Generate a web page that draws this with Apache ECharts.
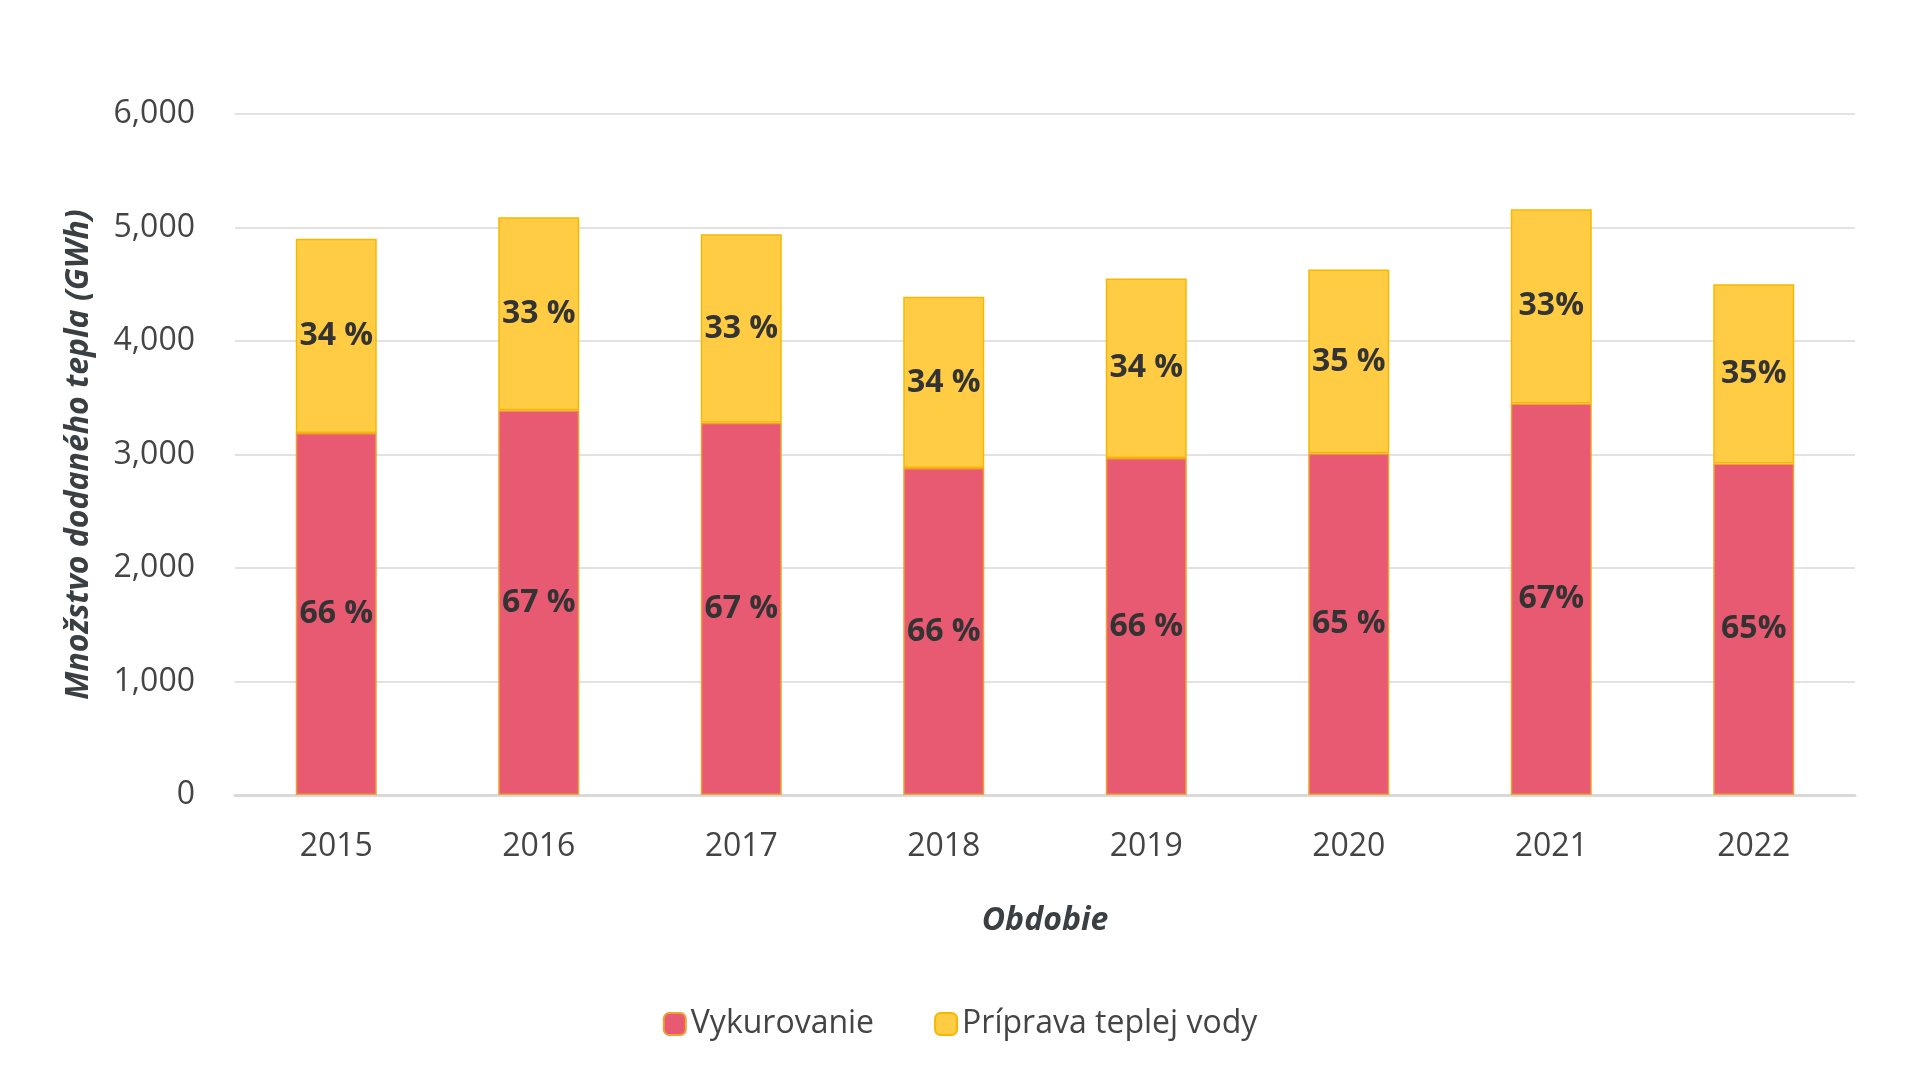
<!DOCTYPE html>
<html>
<head>
<meta charset="UTF-8">
<script src="https://cdn.jsdelivr.net/npm/echarts@6/dist/echarts.min.js"></script>
<style>body{margin:0;background:#fff}</style>
</head>
<body>
<div id="chart" style="width:1920px;height:1075px;"></div>
<script>
var years = ['2015','2016','2017','2018','2019','2020','2021','2022'];
var heating = [3190, 3390, 3280, 2880, 2970, 3010, 3450, 2920];
var hotWater = [1710, 1700, 1660, 1510, 1580, 1620, 1710, 1580];
var heatingPct = ['66 %','67 %','67 %','66 %','66 %','65 %','67%','65%'];
var waterPct = ['34 %','33 %','33 %','34 %','34 %','35 %','33%','35%'];
var yTicks = [0, 1000, 2000, 3000, 4000, 5000, 6000];

var chart = echarts.init(document.getElementById('chart'));
var font = 'Open Sans';
function lbl(arr) {
    return {show: true, position: 'inside', fontFamily: font, fontWeight: 'bold', fontSize: 32, color: '#333',
        formatter: function (p) { return arr[p.dataIndex]; }};
}
chart.setOption({
    textStyle: {fontFamily: font},
    grid: {left: 235, right: 65, top: 114, bottom: 280},
    legend: {
        bottom: 30, left: 'center', itemWidth: 22, itemHeight: 22, itemGap: 60,
        textStyle: {fontSize: 32, color: '#444', fontFamily: font},
        data: ['Vykurovanie', 'Príprava teplej vody']
    },
    xAxis: {
        type: 'category', data: years,
        name: 'Obdobie', nameLocation: 'middle', nameGap: 110,
        nameTextStyle: {fontSize: 32, fontWeight: 'bold', fontStyle: 'italic', color: '#3a3f44'},
        axisLine: {lineStyle: {color: '#d9d9d9', width: 3}},
        axisTick: {show: false},
        axisLabel: {fontSize: 32, color: '#444', margin: 36}
    },
    yAxis: {
        type: 'value', min: yTicks[0], max: yTicks[yTicks.length - 1], interval: 1000,
        name: 'Množstvo dodaného tepla (GWh)', nameLocation: 'middle', nameGap: 140,
        nameTextStyle: {fontSize: 32, fontWeight: 'bold', fontStyle: 'italic', color: '#3a3f44'},
        axisLine: {show: false}, axisTick: {show: false},
        axisLabel: {fontSize: 32, color: '#444', margin: 40},
        splitLine: {lineStyle: {color: '#d9d9d9', width: 1.5}}
    },
    series: [
        {name: 'Vykurovanie', type: 'bar', stack: 's', data: heating, barWidth: '40%',
         itemStyle: {color: '#E85A71', borderColor: '#F0A030', borderWidth: 1.5}, label: lbl(heatingPct)},
        {name: 'Príprava teplej vody', type: 'bar', stack: 's', data: hotWater,
         itemStyle: {color: '#FFCC44', borderColor: '#F5B800', borderWidth: 1.5}, label: lbl(waterPct)}
    ]
});
</script>
</body>
</html>
